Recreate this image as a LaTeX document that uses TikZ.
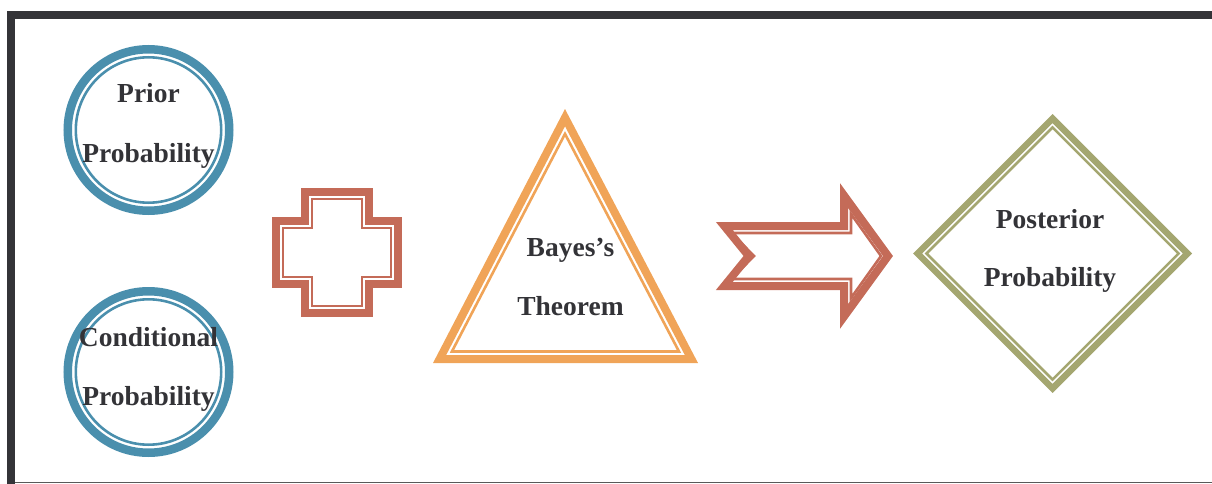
\documentclass[tikz,border=0pt]{standalone}
\usepackage{fontspec}
\setmainfont{Liberation Serif}
\definecolor{blueC}{RGB}{74,143,173}
\definecolor{redC}{RGB}{196,107,88}
\definecolor{orangeC}{RGB}{240,164,88}
\definecolor{oliveC}{RGB}{164,166,112}
\definecolor{textC}{RGB}{51,51,55}
\definecolor{frameC}{RGB}{52,52,56}
\tikzset{
  lbl/.style={font=\fontsize{27.5}{30}\selectfont\bfseries, text=textC, anchor=base, inner sep=0pt},
  thickline/.style={line width=#1, line join=miter},
  thinline/.style={line width=2.6pt, line join=miter}
}
\begin{document}
\begin{tikzpicture}[x=1pt,y=-1pt]
\useasboundingbox (0,0) rectangle (1212,484);
% frame
\fill[frameC] (7,11) rectangle (1212,19);
\fill[frameC] (7,11) rectangle (15,484);
\draw[line width=1.5pt, black!65] (15,482.5) -- (1212,482.5);
% circles
\draw[blueC, thickline=8.5pt] (148.5,130) circle[radius=80.75];
\draw[blueC, thinline] (148.5,130) circle[radius=72.7];
\draw[blueC, thickline=8.5pt] (148.5,372) circle[radius=80.75];
\draw[blueC, thinline] (148.5,372) circle[radius=72.7];
% cross
\draw[redC, thickline=8pt] (305,192) -- (369,192) -- (369,221) -- (398,221) -- (398,284) -- (369,284) -- (369,313) -- (305,313) -- (305,284) -- (276,284) -- (276,221) -- (305,221) -- cycle;
\draw[redC, thinline] (312,199) -- (362,199) -- (362,228) -- (391,228) -- (391,277) -- (362,277) -- (362,306) -- (312,306) -- (312,277) -- (283,277) -- (283,228) -- (312,228) -- cycle;
% triangle
\draw[orangeC, thickline=8pt] (565,117.65) -- (691.4,359) -- (439.6,359) -- cycle;
\draw[orangeC, thinline] (565,133.9) -- (679,351.5) -- (451.9,351.5) -- cycle;
% arrow
\draw[redC, thickline=8pt] (724.3,226) -- (844,226) -- (844,195.5) -- (888,256) -- (844,316.5) -- (844,286) -- (724.3,286) -- (748.7,256) -- cycle;
\draw[redC, thinline] (731.5,233) -- (851,233) -- (851,214) -- (881,256) -- (851,298) -- (851,279) -- (731.5,279) -- (754,256) -- cycle;
% diamond
\draw[oliveC, thickline=6.5pt] (1052.5,118.6) -- (1187.4,253.5) -- (1052.5,388.4) -- (917.6,253.5) -- cycle;
\draw[oliveC, thinline] (1052.5,127.4) -- (1178.6,253.5) -- (1052.5,379.6) -- (926.4,253.5) -- cycle;
% labels
\node[lbl] (prior1) at (148.5,103) {Prior};
\node[lbl] (prior2) at (148.5,162.5) {Probability};
\node[lbl] (cond1) at (148.5,346.5) {Conditional};
\node[lbl] (cond2) at (148.5,405) {Probability};
\node[lbl] (bayes1) at (570.5,256) {Bayes’s};
\node[lbl] (bayes2) at (570.5,315) {Theorem};
\node[lbl] (post1) at (1050,228.3) {Posterior};
\node[lbl] (post2) at (1050,286.5) {Probability};
\end{tikzpicture}
\end{document}
